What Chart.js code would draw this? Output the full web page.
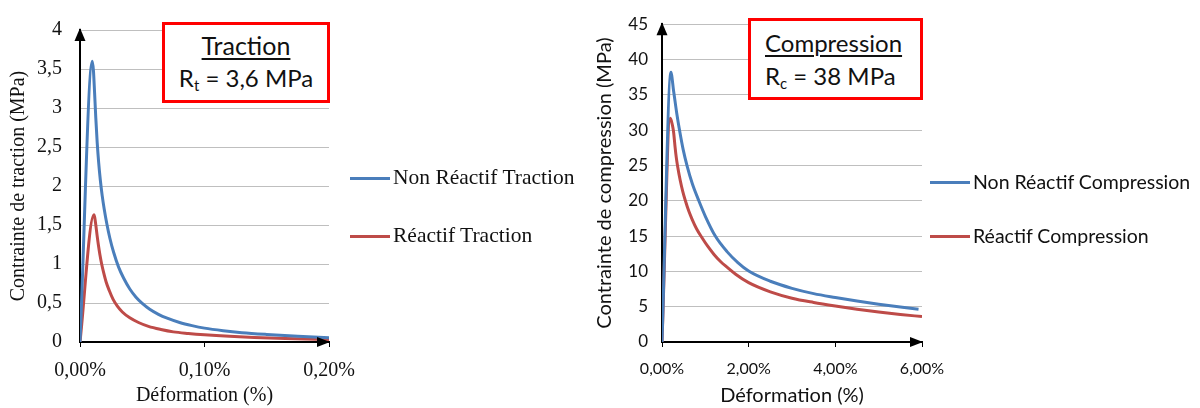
<!DOCTYPE html>
<html>
<head>
<meta charset="utf-8">
<script src="https://cdn.jsdelivr.net/npm/chart.js@4.4.1/dist/chart.umd.min.js"></script>
<style>
  body { margin: 0; background: #fff; }
  #page { position: relative; width: 1200px; height: 408px; overflow: hidden; }
  canvas { position: absolute; top: 0; }
  #cvTraction { left: 0; }
  #cvCompression { left: 590px; }
  .boite { position: absolute; border: 3px solid #f00; box-sizing: border-box; background: #fff; }
  .ligne { position: absolute; white-space: nowrap; font-family: Lato, sans-serif; font-size: 24px; line-height: 29px; color: #111; }
  .ligne u { text-decoration-thickness: 2px; text-underline-offset: 3px; }
  .ligne sub { font-size: 0.62em; vertical-align: -0.3em; }
  .legende { position: absolute; }
  .legende .item { position: absolute; left: 0; white-space: nowrap; color: #111; }
  .legende .trait { position: absolute; left: 0; width: 40px; height: 3px; }
  .legende .txt { position: absolute; left: 43px; }
</style>
</head>
<body>
<div id="page">
  <canvas id="cvTraction" width="390" height="408"></canvas>
  <canvas id="cvCompression" width="390" height="408"></canvas>

  <div class="boite" style="left:162px;top:22px;width:168px;height:81px;">
    <div class="ligne" style="left:0;width:162px;text-align:center;top:6px;font-size:25px;"><u>Traction</u></div>
    <div class="ligne" style="left:0;width:162px;text-align:center;top:38px;">R<sub>t</sub> = 3,6 MPa</div>
  </div>
  <div class="boite" style="left:748px;top:18px;width:175px;height:82px;">
    <div class="ligne" style="left:14px;top:7px;"><u>Compression</u></div>
    <div class="ligne" style="left:14px;top:40px;">R<sub>c</sub> = 38 MPa</div>
  </div>

  <div class="legende" id="legTraction" style="left:350px;top:178px;"></div>
  <div class="legende" id="legCompression" style="left:930px;top:182px;"></div>
</div>

<script>
// --- Traction (x en %, contrainte en MPa) ---
const nonReactifTractionX = [0, 0.0099, 0.0108, 0.0117, 0.0127, 0.0138, 0.015, 0.0163, 0.0178, 0.0195, 0.0215, 0.024, 0.027, 0.031, 0.035, 0.04, 0.045, 0.05, 0.056, 0.063, 0.07, 0.08, 0.09, 0.1, 0.115, 0.13, 0.15, 0.175, 0.2];
const nonReactifTractionY = [0, 3.6, 3.48, 3.2, 2.87, 2.56, 2.3, 2.08, 1.88, 1.7, 1.52, 1.33, 1.15, 0.96, 0.82, 0.68, 0.575, 0.495, 0.42, 0.355, 0.305, 0.25, 0.21, 0.178, 0.145, 0.12, 0.097, 0.074, 0.055];
const reactifTractionX = [0, 0.0112, 0.0119, 0.0127, 0.0137, 0.0148, 0.016, 0.0174, 0.019, 0.021, 0.0235, 0.0265, 0.03, 0.034, 0.04, 0.047, 0.055, 0.065, 0.075, 0.087, 0.1, 0.12, 0.14, 0.165, 0.2];
const reactifTractionY = [0, 1.63, 1.59, 1.5, 1.37, 1.24, 1.12, 1.0, 0.89, 0.77, 0.66, 0.55, 0.46, 0.385, 0.31, 0.25, 0.2, 0.16, 0.13, 0.11, 0.093, 0.073, 0.058, 0.045, 0.032];
const ticksTractionX = [0, 0.1, 0.2];

// --- Compression ---
const nonReactifCompressionX = [0, 0.208, 0.23, 0.26, 0.285, 0.34, 0.41, 0.49, 0.58, 0.7, 0.85, 1.0, 1.23, 1.5, 1.75, 2.0, 2.5, 3.0, 3.5, 4.0, 4.5, 5.0, 5.5, 5.92];
const nonReactifCompressionY = [0, 38.2, 37.5, 35.9, 34.8, 32.4, 29.8, 27.2, 24.9, 22.4, 20.0, 17.8, 15.0, 12.8, 11.25, 10.05, 8.6, 7.6, 6.85, 6.3, 5.8, 5.35, 4.95, 4.65];
const reactifCompressionX = [0, 0.19, 0.22, 0.25, 0.27, 0.3, 0.33, 0.36, 0.42, 0.48, 0.54, 0.62, 0.7, 0.8, 0.92, 1.05, 1.2, 1.35, 1.5, 1.7, 2.0, 2.5, 3.0, 3.5, 4.0, 4.5, 5.0, 5.5, 6.0];
const reactifCompressionY = [0, 31.7, 31.2, 30.4, 29.6, 27.7, 26.1, 24.9, 22.9, 21.3, 20.0, 18.5, 17.3, 16.0, 14.8, 13.6, 12.4, 11.4, 10.6, 9.6, 8.4, 7.1, 6.2, 5.6, 5.1, 4.65, 4.25, 3.9, 3.6];
const ticksCompressionX = [0, 2, 4, 6];

const BLEU = '#4a7ebb';
const ROUGE = '#be4b48';

const points = (xs, ys) => xs.map((x, i) => ({ x: x, y: ys[i] }));
const virgule = (v) => String(v).replace('.', ',');

// fleches au bout des axes
const flechesAxes = {
    id: 'flechesAxes',
    afterDraw(chart) {
        const { ctx, chartArea } = chart;
        const { left, top, right, bottom } = chartArea;
        ctx.save();
        ctx.fillStyle = '#000';
        ctx.beginPath(); // haut de l'axe Y
        ctx.moveTo(left, top - 2);
        ctx.lineTo(left - 5.5, top + 11);
        ctx.lineTo(left + 5.5, top + 11);
        ctx.closePath();
        ctx.fill();
        ctx.beginPath(); // bout de l'axe X
        ctx.moveTo(right + 1, bottom);
        ctx.lineTo(right - 12, bottom - 5);
        ctx.lineTo(right - 12, bottom + 5);
        ctx.closePath();
        ctx.fill();
        ctx.restore();
    }
};

function creerGraphe(id, cfg) {
    const police = cfg.police;
    return new Chart(document.getElementById(id), {
        type: 'line',
        data: {
            datasets: cfg.series.map(s => ({
                label: s.label,
                data: points(s.x, s.y),
                borderColor: s.couleur,
                backgroundColor: s.couleur,
                borderWidth: 3,
                pointRadius: 0,
                fill: false,
                cubicInterpolationMode: 'monotone'
            }))
        },
        options: {
            responsive: false,
            animation: false,
            devicePixelRatio: 1,
            layout: { padding: { top: 22, right: cfg.padDroite, left: 0, bottom: 0 } },
            plugins: { legend: { display: false }, tooltip: { enabled: false } },
            scales: {
                x: {
                    type: 'linear',
                    min: 0,
                    max: cfg.xMax,
                    afterBuildTicks: (axe) => { axe.ticks = cfg.ticksX.map(v => ({ value: v })); },
                    afterFit: (axe) => { axe.height = 66; },
                    ticks: {
                        padding: cfg.padTicksX,
                        maxRotation: 0,
                        color: '#111',
                        font: { family: police, size: cfg.tailleTicksX },
                        callback: (v) => v.toFixed(2).replace('.', ',') + '%'
                    },
                    grid: { drawOnChartArea: false, drawTicks: true, tickLength: 5, color: '#000' },
                    border: { display: true, color: '#000', width: 2 },
                    title: {
                        display: true,
                        text: 'Déformation (%)',
                        color: '#111',
                        font: { family: police, size: cfg.tailleTitre },
                        padding: { top: 0, bottom: 0 }
                    }
                },
                y: {
                    min: 0,
                    max: cfg.yMax,
                    afterFit: (axe) => { axe.width = cfg.largeurY; },
                    ticks: {
                        stepSize: cfg.pasY,
                        padding: cfg.padTicksY,
                        color: '#111',
                        font: { family: police, size: cfg.tailleTicksY },
                        callback: (v) => virgule(v)
                    },
                    grid: { drawTicks: false, color: '#bfbfbf', lineWidth: 1 },
                    border: { display: true, color: '#000', width: 2 },
                    title: {
                        display: true,
                        text: cfg.titreY,
                        color: '#111',
                        font: { family: police, size: cfg.tailleTitre },
                        padding: { top: cfg.padTitreY, bottom: 0 }
                    }
                }
            }
        },
        plugins: [flechesAxes]
    });
}

function legendeHtml(chart, el, police, taille, ecart) {
    chart.data.datasets.forEach((ds, i) => {
        const item = document.createElement('div');
        item.className = 'item';
        item.style.top = (i * ecart) + 'px';
        const trait = document.createElement('div');
        trait.className = 'trait';
        trait.style.background = ds.borderColor;
        trait.style.top = '-1.5px';
        const txt = document.createElement('div');
        txt.className = 'txt';
        txt.textContent = ds.label;
        txt.style.fontFamily = police;
        txt.style.fontSize = taille + 'px';
        txt.style.lineHeight = taille + 'px';
        txt.style.top = (-taille / 2) + 'px';
        item.appendChild(trait);
        item.appendChild(txt);
        el.appendChild(item);
    });
}

const grapheTraction = creerGraphe('cvTraction', {
    police: '"Liberation Serif", serif',
    series: [
        { label: 'Non Réactif Traction', x: nonReactifTractionX, y: nonReactifTractionY, couleur: BLEU },
        { label: 'Réactif Traction', x: reactifTractionX, y: reactifTractionY, couleur: ROUGE }
    ],
    xMax: 0.2, ticksX: ticksTractionX, yMax: 4, pasY: 0.5,
    titreY: 'Contrainte de traction (MPa)',
    padDroite: 61, largeurY: 80, padTicksY: 18, padTitreY: 7, padTicksX: 12,
    tailleTicksX: 20, tailleTicksY: 20, tailleTitre: 20
});

const grapheCompression = creerGraphe('cvCompression', {
    police: 'Lato, sans-serif',
    series: [
        { label: 'Non Réactif Compression', x: nonReactifCompressionX, y: nonReactifCompressionY, couleur: BLEU },
        { label: 'Réactif Compression', x: reactifCompressionX, y: reactifCompressionY, couleur: ROUGE }
    ],
    xMax: 6, ticksX: ticksCompressionX, yMax: 45, pasY: 5,
    titreY: 'Contrainte de compression (MPa)',
    padDroite: 58, largeurY: 72, padTicksY: 14, padTitreY: 3, padTicksX: 12,
    tailleTicksX: 16, tailleTicksY: 17, tailleTitre: 20
});

legendeHtml(grapheTraction, document.getElementById('legTraction'), '"Liberation Serif", serif', 21.5, 58);
legendeHtml(grapheCompression, document.getElementById('legCompression'), 'Lato, sans-serif', 19.5, 54);
</script>
</body>
</html>
